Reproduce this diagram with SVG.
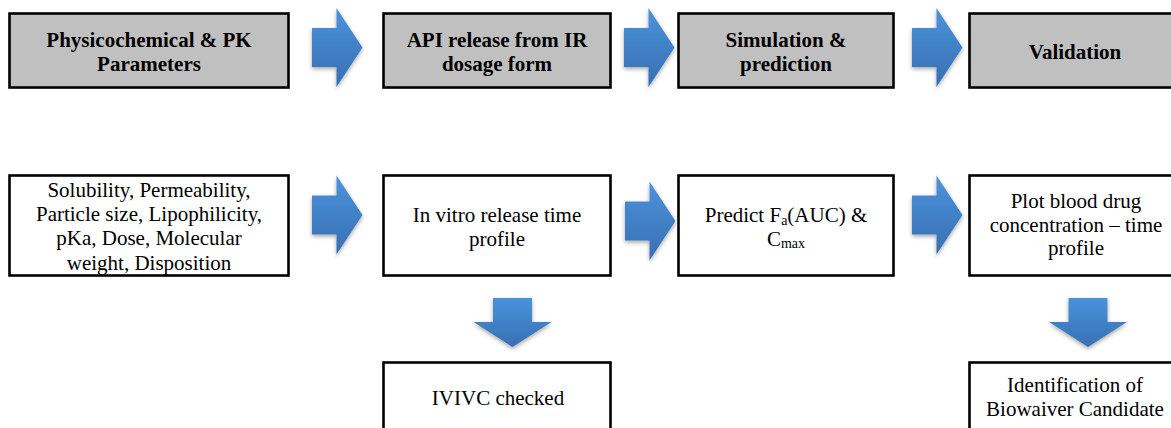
<svg xmlns="http://www.w3.org/2000/svg" width="1171" height="428" viewBox="0 0 1171 428">
<style>
.box{stroke:#000;stroke-width:2.6}
.hdr{fill:#c0c0c0}
.wht{fill:#fff}
.b{font-family:'Liberation Serif',serif;font-weight:bold;font-size:21px;fill:#000;text-anchor:middle}
.r{font-family:'Liberation Serif',serif;font-size:21px;fill:#000;text-anchor:middle}
.arr{filter:url(#sh)}
</style>
<defs>
<linearGradient id="gr" x1="0" y1="0" x2="0" y2="1">
<stop offset="0" stop-color="#4b93dc"/>
<stop offset="1" stop-color="#386fb1"/>
</linearGradient>
<filter id="sh" x="-30%" y="-30%" width="160%" height="160%">
<feDropShadow dx="0" dy="2" stdDeviation="2" flood-color="#000" flood-opacity="0.35"/>
</filter>
<path id="ra" d="M0,-19.5 H24.5 V-39.5 L50.5,0 L24.5,39.5 V19.5 H0 Z"/>
<path id="da" d="M-19.5,0 H19.5 V24 H39 L0,49 L-39,24 H-19.5 Z"/>
</defs>

<g id="node-physchem"><rect class="box hdr" x="9.5" y="13.5" width="279" height="74"/><text class="b" x="149" y="47">Physicochemical &amp; PK</text><text class="b" x="149" y="70.5">Parameters</text></g>
<g id="node-api"><rect class="box hdr" x="383.5" y="13.5" width="227" height="74"/><text class="b" x="497" y="47">API release from IR</text><text class="b" x="497" y="70.5">dosage form</text></g>
<g id="node-sim"><rect class="box hdr" x="678.5" y="13.5" width="215" height="74"/><text class="b" x="786" y="47">Simulation &amp;</text><text class="b" x="786" y="70.5">prediction</text></g>
<g id="node-valid"><rect class="box hdr" x="969.5" y="13.5" width="215" height="74"/><text class="b" x="1075" y="59">Validation</text></g>

<g id="node-params"><rect class="box wht" x="9.5" y="175.5" width="279" height="100"/><text class="r" x="149" y="196.5">Solubility, Permeability,</text><text class="r" x="149" y="221">Particle size, Lipophilicity,</text><text class="r" x="149" y="245">pKa, Dose, Molecular</text><text class="r" x="149" y="269.5">weight, Disposition</text></g>
<g id="node-invitro"><rect class="box wht" x="383.5" y="175.5" width="227" height="100"/><text class="r" x="497" y="221.5">In vitro release time</text><text class="r" x="497" y="245.5">profile</text></g>
<g id="node-predict"><rect class="box wht" x="678.5" y="175.5" width="215" height="100"/><text class="r" x="786" y="221.5">Predict F<tspan font-size="14" dy="3">a</tspan><tspan dy="-3">(AUC) &amp;</tspan></text><text class="r" x="786" y="245.5">C<tspan font-size="14" dy="2">max</tspan></text></g>
<g id="node-plot"><rect class="box wht" x="969.5" y="175.5" width="215" height="100"/><text class="r" x="1076" y="208">Plot blood drug</text><text class="r" x="1076" y="231.5">concentration – time</text><text class="r" x="1076" y="255">profile</text></g>

<g id="node-ivivc"><rect class="box wht" x="383.5" y="362.5" width="227" height="80"/><text class="r" x="498" y="405">IVIVC checked</text></g>
<g id="node-biowaiver"><rect class="box wht" x="969.5" y="362.5" width="215" height="80"/><text class="r" x="1075" y="392">Identification of</text><text class="r" x="1075" y="416">Biowaiver Candidate</text></g>

<g id="connectors" fill="url(#gr)">
<use class="arr" href="#ra" x="312" y="47.5"/>
<use class="arr" href="#ra" x="624" y="47.5"/>
<use class="arr" href="#ra" x="912" y="47.5"/>
<use class="arr" href="#ra" x="312" y="215"/>
<use class="arr" href="#ra" x="625" y="221"/>
<use class="arr" href="#ra" x="912" y="215"/>
<use class="arr" href="#da" x="512.5" y="298"/>
<use class="arr" href="#da" x="1088" y="298"/>
</g>
</svg>
